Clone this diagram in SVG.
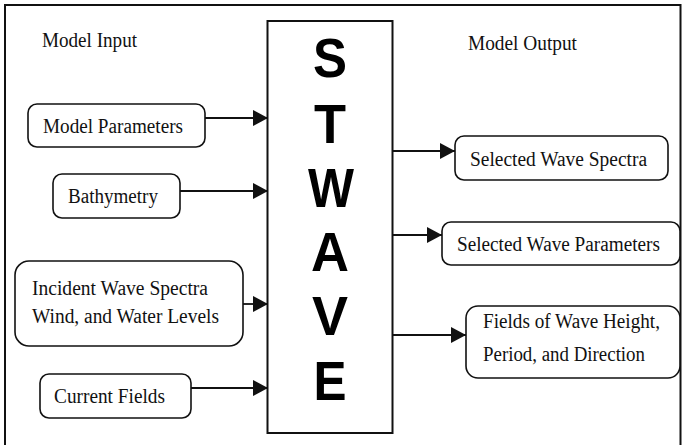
<svg xmlns="http://www.w3.org/2000/svg" width="682" height="445" viewBox="0 0 682 445">
  <style>
    .frame { fill: none; stroke: #111; stroke-width: 2; }
    .box { fill: #fff; stroke: #111; stroke-width: 1.6; }
    .core { fill: #fff; stroke: #111; stroke-width: 2; }
    .lbl { font-family: "Liberation Serif", "Times New Roman", serif; font-size: 20px; fill: #111; }
    .big { font-family: "Liberation Sans", Arial, sans-serif; font-weight: bold; font-size: 56px; fill: #000; text-anchor: middle; }
    .wire { fill: none; stroke: #111; stroke-width: 1.8; marker-end: url(#tip); }
  </style>
  <defs>
    <marker id="tip" markerUnits="userSpaceOnUse" markerWidth="15" markerHeight="16" refX="15" refY="8" orient="auto">
      <path d="M0,0 L15,8 L0,16 Z" fill="#111"/>
    </marker>
  </defs>

  <!-- outer frame -->
  <rect class="frame" x="5" y="5" width="675.5" height="460"/>

  <!-- section headings -->
  <text class="lbl" x="42" y="47" textLength="95" lengthAdjust="spacingAndGlyphs">Model Input</text>
  <text class="lbl" x="468" y="50" textLength="109" lengthAdjust="spacingAndGlyphs">Model Output</text>

  <!-- central model block -->
  <g id="stwave">
    <rect class="core" x="267.5" y="21" width="125" height="412"/>
    <text class="big" x="330" y="77" textLength="34" lengthAdjust="spacingAndGlyphs">S</text>
    <text class="big" x="330" y="143" textLength="32" lengthAdjust="spacingAndGlyphs">T</text>
    <text class="big" x="331" y="207" textLength="46" lengthAdjust="spacingAndGlyphs">W</text>
    <text class="big" x="330" y="271" textLength="38" lengthAdjust="spacingAndGlyphs">A</text>
    <text class="big" x="330" y="335" textLength="36" lengthAdjust="spacingAndGlyphs">V</text>
    <text class="big" x="330" y="400" textLength="33" lengthAdjust="spacingAndGlyphs">E</text>
  </g>

  <!-- inputs -->
  <g id="model-parameters">
    <rect class="box" x="28" y="104" width="177" height="43" rx="9"/>
    <text class="lbl" x="43" y="133" textLength="140" lengthAdjust="spacingAndGlyphs">Model Parameters</text>
  </g>
  <g id="bathymetry">
    <rect class="box" x="53" y="174" width="127" height="44" rx="9"/>
    <text class="lbl" x="68" y="203" textLength="90" lengthAdjust="spacingAndGlyphs">Bathymetry</text>
  </g>
  <g id="incident">
    <rect class="box" x="15" y="261" width="228" height="85" rx="14"/>
    <text class="lbl" x="32" y="295" textLength="176" lengthAdjust="spacingAndGlyphs">Incident Wave Spectra</text>
    <text class="lbl" x="32" y="323" textLength="187" lengthAdjust="spacingAndGlyphs">Wind, and Water Levels</text>
  </g>
  <g id="current-fields">
    <rect class="box" x="40" y="374" width="151" height="44" rx="9"/>
    <text class="lbl" x="54" y="403" textLength="111" lengthAdjust="spacingAndGlyphs">Current Fields</text>
  </g>

  <!-- outputs -->
  <g id="wave-spectra">
    <rect class="box" x="455" y="136" width="213" height="44" rx="9"/>
    <text class="lbl" x="470" y="166" textLength="177" lengthAdjust="spacingAndGlyphs">Selected Wave Spectra</text>
  </g>
  <g id="wave-parameters">
    <rect class="box" x="442" y="222" width="238" height="43" rx="9"/>
    <text class="lbl" x="457" y="251" textLength="203" lengthAdjust="spacingAndGlyphs">Selected Wave Parameters</text>
  </g>
  <g id="wave-fields">
    <rect class="box" x="466" y="306" width="214" height="72" rx="12"/>
    <text class="lbl" x="483" y="328" textLength="177" lengthAdjust="spacingAndGlyphs">Fields of Wave Height,</text>
    <text class="lbl" x="483" y="361" textLength="162" lengthAdjust="spacingAndGlyphs">Period, and Direction</text>
  </g>

  <!-- connectors -->
  <g id="connectors">
    <path class="wire" d="M205,118 H268" stroke-width="2.2"/>
    <path class="wire" d="M180,191 H268"/>
    <path class="wire" d="M243,304 H268"/>
    <path class="wire" d="M191,388 H268"/>
    <path class="wire" d="M392.5,151 H455"/>
    <path class="wire" d="M392.5,235 H442"/>
    <path class="wire" d="M392.5,335 H466"/>
  </g>
</svg>
